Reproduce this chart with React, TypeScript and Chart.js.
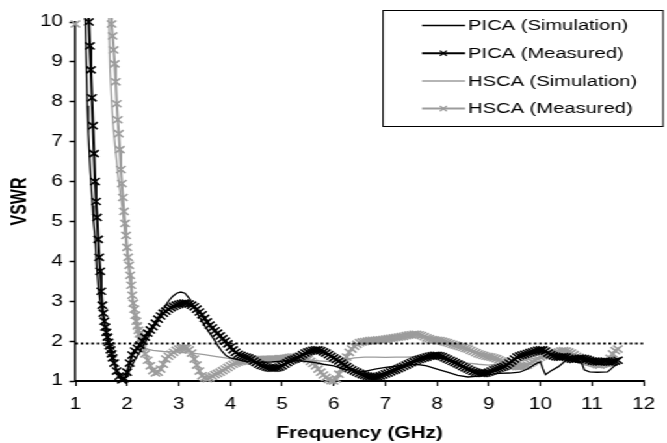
import { useEffect, useRef } from 'react';
import { Chart, registerables } from 'chart.js';

Chart.register(...registerables);

// ---- canvas geometry (reference is horizontally stretched) ----
const CW = 513;
const CH = 443;
const STRETCH = 667 / CW;

// ---- helpers for sweep frequencies (x sample positions only) ----
const grid = (a: number, b: number, step: number): number[] => {
  const out: number[] = [];
  const n = Math.round((b - a) / step);
  for (let i = 0; i <= n; i++) out.push(+(a + i * step).toFixed(2));
  return out;
};

// ---- axis ticks ----
const X_MIN = 1, X_MAX = 12;
const Y_MIN = 1, Y_MAX = 10;
const LIMIT_VSWR = 1.94;

// ---- PICA (Simulation) ----
const PS_F = [1.17,1.19,1.21,1.23,1.25,1.27,1.29,1.31,1.33,1.35,
  1.38,1.41,1.44,1.47,1.50,1.54,1.58,1.62,1.66,1.70,
  1.75,1.80,1.85,1.90,1.95,2.00,2.08,2.16,2.24,2.32,
  2.40,2.48,2.56,2.64,2.72,2.80,2.88,2.96,3.04,3.12,
  3.20,3.28,3.36,3.44,3.52,3.60,3.68,3.76,3.84,3.92,
  4.00,4.10,4.25,4.40,4.60,4.80,5.00,5.20,5.40,5.60,
  5.80,6.00,6.20,6.40,6.60,6.80,7.00,7.20,7.40,7.60,
  7.80,8.00,8.20,8.40,8.60,8.80,9.00,9.20,9.40,9.60,
  9.75,9.85,9.95,10.00,10.05,10.10,10.20,10.35,10.50,10.65,
  10.80,10.85,10.95,11.10,11.30,11.42,11.50];
const PS_V = [10.6,10.0,9.0,7.9,7.2,6.7,6.2,5.8,5.4,5.0,
  4.6,3.9,3.4,3.05,2.85,2.55,2.3,2.05,1.86,1.7,
  1.48,1.3,1.16,1.08,1.05,1.12,1.36,1.55,1.72,1.9,
  2.08,2.28,2.48,2.68,2.85,3.0,3.12,3.2,3.23,3.2,
  3.08,2.9,2.7,2.52,2.35,2.2,2.05,1.88,1.74,1.63,
  1.58,1.55,1.5,1.48,1.47,1.48,1.5,1.52,1.5,1.47,
  1.42,1.38,1.3,1.25,1.24,1.3,1.34,1.37,1.4,1.42,
  1.38,1.3,1.22,1.14,1.1,1.12,1.16,1.19,1.2,1.22,
  1.3,1.38,1.46,1.48,1.3,1.16,1.25,1.36,1.52,1.5,
  1.45,1.28,1.23,1.22,1.23,1.36,1.44];

// ---- PICA (Measured) ----
const PM_F = [...grid(1.24, 1.72, 0.02), ...grid(1.75, 11.5, 0.05)];
const PM_V = [
  10.5,10.0,9.4,8.8,8.1,7.4,6.7,6.0,5.5,5.1,4.55,4.1,3.75,3.25,2.9,2.7,2.5,2.35,2.22,2.1,1.97,1.88,1.78,1.68,1.58,
  1.45,1.25,1.12,1.03,1.06,1.22,1.45,1.65,1.75,1.82,
  1.9,2.0,2.1,2.2,2.28,2.36,2.45,2.55,2.63,2.7,
  2.75,2.8,2.84,2.87,2.9,2.92,2.94,2.95,2.95,2.93,
  2.9,2.86,2.8,2.73,2.66,2.57,2.48,2.4,2.33,2.26,
  2.2,2.13,2.06,2.0,1.93,1.85,1.78,1.72,1.67,1.64,
  1.62,1.6,1.58,1.55,1.5,1.46,1.42,1.39,1.37,1.35,
  1.33,1.32,1.32,1.33,1.35,1.38,1.42,1.46,1.5,1.53,
  1.55,1.58,1.62,1.66,1.7,1.73,1.75,1.77,1.78,1.78,
  1.76,1.73,1.7,1.66,1.62,1.58,1.54,1.5,1.45,1.4,
  1.36,1.32,1.28,1.25,1.22,1.19,1.16,1.14,1.12,1.11,
  1.1,1.1,1.11,1.13,1.15,1.18,1.2,1.23,1.26,1.28,
  1.31,1.34,1.37,1.4,1.43,1.46,1.49,1.52,1.54,1.56,
  1.58,1.6,1.62,1.63,1.64,1.64,1.63,1.61,1.58,1.55,
  1.52,1.49,1.46,1.43,1.4,1.36,1.33,1.3,1.27,1.24,
  1.22,1.2,1.19,1.19,1.2,1.22,1.25,1.28,1.3,1.32,
  1.34,1.36,1.4,1.45,1.5,1.55,1.6,1.63,1.65,1.67,
  1.69,1.71,1.73,1.75,1.77,1.78,1.78,1.75,1.7,1.66,
  1.63,1.61,1.6,1.6,1.61,1.6,1.57,1.55,1.54,1.55,
  1.57,1.57,1.56,1.54,1.52,1.5,1.49,1.48,1.48,1.49,
  1.5,1.48,1.47,1.48,1.5,1.52];

// ---- HSCA (Simulation) ----
const HS_F = [1.62,1.65,1.67,1.70,1.73,1.76,1.79,1.83,1.87,1.91,
  1.95,2.00,2.05,2.10,2.15,2.20,2.25,2.30,2.40,2.50,
  2.70,2.90,3.10,3.30,3.50,3.70,3.90,4.10,4.30,4.60,
  4.90,5.20,5.50,5.80,6.00,6.20,6.40,6.60,6.80,7.00,
  7.20,7.40,7.60,7.80,8.00,8.20,8.40,8.60,8.80,9.00,
  9.20,9.40,9.60,9.80,10.00,10.20,10.40,10.60,10.80,11.00,
  11.20,11.40,11.50];
const HS_V = [11.0,10.0,8.8,8.0,7.4,7.0,6.6,6.1,5.7,5.3,
  4.8,4.2,3.6,3.0,2.55,2.2,1.98,1.86,1.8,1.77,
  1.74,1.73,1.71,1.69,1.66,1.62,1.58,1.54,1.52,1.5,
  1.5,1.52,1.52,1.5,1.48,1.53,1.58,1.6,1.6,1.59,
  1.6,1.6,1.61,1.61,1.6,1.55,1.5,1.45,1.42,1.4,
  1.43,1.47,1.5,1.55,1.6,1.6,1.58,1.52,1.42,1.36,
  1.34,1.38,1.42];

// ---- HSCA (Measured) ----
const HM_F = [1.0, 1.3, ...grid(1.66, 2.30, 0.02), ...grid(2.35, 11.5, 0.05)];
const HM_V: (number | null)[] = [
  9.95, null,
  11.0,10.4,9.95,9.65,9.3,8.95,8.5,7.95,7.55,7.2,
  6.8,6.3,5.95,5.6,5.25,4.95,4.65,4.35,4.1,3.9,
  3.65,3.4,3.15,2.95,2.8,2.65,2.5,2.38,2.27,2.18,
  2.05,1.95,1.85,
  1.68,1.52,1.38,1.26,1.2,1.22,1.3,1.42,1.55,1.62,
  1.67,1.72,1.77,1.8,1.82,1.83,1.82,1.78,1.7,1.55,
  1.4,1.25,1.13,1.08,1.06,1.08,1.12,1.16,1.19,1.22,
  1.26,1.3,1.34,1.38,1.42,1.45,1.47,1.49,1.5,1.51,
  1.52,1.53,1.53,1.53,1.54,1.54,1.54,1.54,1.54,1.55,
  1.55,1.55,1.56,1.56,1.57,1.58,1.59,1.6,1.6,1.61,
  1.61,1.6,1.58,1.54,1.49,1.44,1.38,1.3,1.22,1.15,
  1.09,1.04,1.01,1.0,1.05,1.17,1.3,1.45,1.6,1.72,
  1.8,1.87,1.92,1.96,1.98,1.99,2.0,2.01,2.02,2.02,
  2.03,2.03,2.04,2.05,2.06,2.07,2.08,2.09,2.1,2.11,
  2.12,2.14,2.15,2.16,2.17,2.17,2.16,2.14,2.11,2.08,
  2.06,2.04,2.03,2.02,2.01,2.0,1.98,1.96,1.94,1.92,
  1.9,1.88,1.86,1.84,1.82,1.8,1.77,1.74,1.71,1.68,
  1.66,1.64,1.62,1.61,1.6,1.58,1.56,1.53,1.5,1.46,
  1.42,1.4,1.38,1.37,1.36,1.36,1.37,1.38,1.4,1.44,
  1.48,1.52,1.56,1.6,1.63,1.65,1.66,1.67,1.69,1.71,
  1.73,1.75,1.76,1.75,1.73,1.7,1.66,1.62,1.59,1.57,
  1.55,1.53,1.5,1.47,1.44,1.41,1.4,1.42,1.45,1.49,
  1.57,1.68,1.76,1.8];

const LABELS = ['PICA (Simulation)', 'PICA (Measured)', 'HSCA (Simulation)', 'HSCA (Measured)'];

const pts = (f: number[], v: (number | null)[]) => f.map((x, i) => ({ x, y: v[i] }));

const FONT = '"Liberation Sans", Arial, Helvetica, sans-serif';
const BLACK = '#000000';
const GRAY = '#9c9c9c';

const boxLegend = {
  id: 'boxLegend',
  afterDraw(chart: any) {
    const c = chart.ctx as CanvasRenderingContext2D;
    const L = 294.6, T = 10, R = 510, B = 126;
    const rows = [25.5, 53.2, 81, 108.6];
    c.save();
    c.fillStyle = '#ffffff';
    c.fillRect(L, T, R - L, B - T);
    c.strokeStyle = BLACK;
    c.lineWidth = 1;
    c.strokeRect(L, T + 0.5, R - L, B - T);
    const items = chart.data.datasets.filter((d: any) => d.inLegend);
    items.forEach((d: any, i: number) => {
      const y = rows[i];
      c.strokeStyle = d.borderColor;
      c.lineWidth = d.borderWidth;
      c.beginPath();
      c.moveTo(324.6, y);
      c.lineTo(357.7, y);
      c.stroke();
      if (d.pointRadius > 0) {
        const r = 2.6;
        c.lineWidth = 1.3;
        c.strokeStyle = d.pointBorderColor;
        c.beginPath();
        c.moveTo(341 - r, y - r);
        c.lineTo(341 + r, y + r);
        c.moveTo(341 - r, y + r);
        c.lineTo(341 + r, y - r);
        c.stroke();
      }
      c.fillStyle = BLACK;
      c.font = `15.5px ${FONT}`;
      c.textBaseline = 'middle';
      c.textAlign = 'left';
      c.fillText(d.label, 360, y + 0.5);
    });
    c.restore();
  },
};

export default function App() {
  const ref = useRef<HTMLCanvasElement>(null);
  useEffect(() => {
    document.body.style.margin = '0';
    const canvas = ref.current;
    if (!canvas) return;
    Chart.defaults.font.family = FONT;
    const clip = { left: 6, top: 4, right: 6, bottom: 6 };
    const chart = new Chart(canvas, {
      type: 'line',
      data: {
        datasets: [
          {
            label: 'limit',
            data: [{ x: X_MIN, y: LIMIT_VSWR }, { x: X_MAX, y: LIMIT_VSWR }],
            borderColor: BLACK,
            borderWidth: 2,
            borderDash: [2, 2.1],
            pointRadius: 0,
            inLegend: false,
          } as any,
          {
            label: LABELS[0],
            data: pts(PS_F, PS_V),
            borderColor: BLACK,
            borderWidth: 1.3,
            pointRadius: 0,
            clip,
            inLegend: true,
          } as any,
          {
            label: LABELS[1],
            data: pts(PM_F, PM_V),
            borderColor: BLACK,
            borderWidth: 2,
            pointStyle: 'crossRot',
            pointRadius: 5,
            pointBorderWidth: 1.6,
            pointBorderColor: BLACK,
            pointBackgroundColor: BLACK,
            clip,
            inLegend: true,
          } as any,
          {
            label: LABELS[2],
            data: pts(HS_F, HS_V),
            borderColor: GRAY,
            borderWidth: 1.3,
            pointRadius: 0,
            clip,
            inLegend: true,
          } as any,
          {
            label: LABELS[3],
            data: pts(HM_F, HM_V),
            borderColor: GRAY,
            borderWidth: 2,
            pointStyle: 'crossRot',
            pointRadius: 5,
            pointBorderWidth: 1.6,
            pointBorderColor: GRAY,
            pointBackgroundColor: GRAY,
            clip,
            inLegend: true,
          } as any,
        ],
      },
      options: {
        responsive: false,
        animation: false,
        devicePixelRatio: 1,
        layout: { padding: { left: 0, right: 10, top: 22, bottom: 0 } },
        elements: { line: { tension: 0 } },
        plugins: {
          legend: { display: false },
          tooltip: { enabled: false },
        },
        scales: {
          x: {
            type: 'linear',
            min: X_MIN,
            max: X_MAX,
            ticks: {
              stepSize: 1,
              color: BLACK,
              font: { size: 16 },
              padding: 9,
              maxRotation: 0,
              autoSkip: false,
            },
            grid: {
              display: true,
              drawOnChartArea: false,
              drawTicks: true,
              tickLength: 5,
              tickColor: BLACK,
              tickWidth: 1.2,
            },
            border: { color: BLACK, width: 2 },
            title: {
              display: true,
              text: 'Frequency (GHz)',
              color: BLACK,
              font: { size: 16, weight: 'bold' },
              padding: { top: 0, bottom: 0 },
            },
            afterFit(s: any) {
              s.height = 62;
            },
          },
          y: {
            type: 'linear',
            min: Y_MIN,
            max: Y_MAX,
            ticks: {
              stepSize: 1,
              color: BLACK,
              font: { size: 16 },
              padding: 5,
            },
            grid: {
              display: true,
              drawOnChartArea: false,
              drawTicks: true,
              tickLength: 4.5,
              tickColor: BLACK,
              tickWidth: 1.5,
            },
            border: { color: BLACK, width: 1.5 },
            title: {
              display: true,
              text: 'VSWR',
              color: BLACK,
              font: { size: 16, weight: 'bold' },
              padding: { top: 6, bottom: 0 },
            },
            afterFit(s: any) {
              s.width = 58;
            },
          },
        },
      } as any,
      plugins: [boxLegend],
    });
    return () => chart.destroy();
  }, []);

  return (
    <div
      style={{
        position: 'absolute',
        left: 0,
        top: 0,
        width: CW,
        height: CH,
        transform: `scaleX(${STRETCH})`,
        transformOrigin: '0 0',
        background: '#ffffff',
      }}
    >
      <canvas ref={ref} width={CW} height={CH} style={{ display: 'block' }} />
    </div>
  );
}
